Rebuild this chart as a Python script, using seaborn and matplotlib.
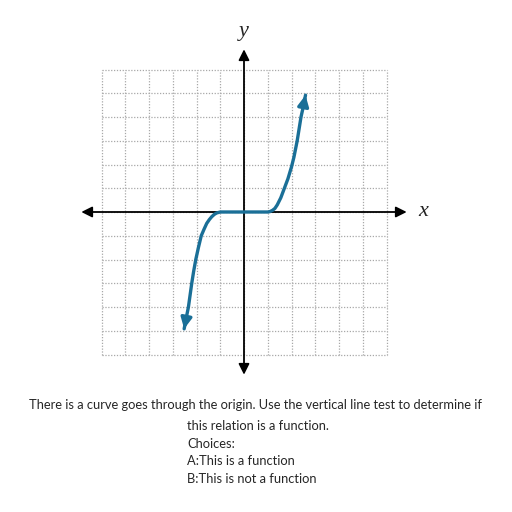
import numpy as np
import pandas as pd
import matplotlib
matplotlib.use("Agg")
import matplotlib.pyplot as plt
import seaborn as sns

# points (x, y in grid units)
curve_x = [-2.52, -2.43, -2.34, -2.27, -2.2, -2.12, -2.03, -1.92, -1.8, -1.68, -1.57,
           -1.46, -1.36, -1.25, -1.15, -1.0, -0.5, 0.0,
           0.5, 1.0, 1.1, 1.2, 1.3, 1.4, 1.55, 1.7, 1.85, 2.0, 2.1, 2.24, 2.32, 2.4, 2.5, 2.59]
curve_y = [-4.92, -4.45, -4.0, -3.5, -3.0, -2.5, -2.0, -1.5, -1.0, -0.72, -0.48,
           -0.32, -0.2, -0.1, -0.04, 0.0, 0.0, 0.0,
           0.0, 0.0, 0.02, 0.07, 0.15, 0.3, 0.6, 1.0, 1.4, 1.9, 2.3, 3.0, 3.5, 4.0, 4.45, 4.92]
grid_ticks = list(range(-6, 7))
axis_reach = 6.85

question = "There is a curve goes through the origin. Use the vertical line test to determine if"
lines_after = ["this relation is a function.", "Choices:", "A:This is a function", "B:This is not a function"]

sns.set_style("white")
curve_color = "#1a6f97"

fig = plt.figure(figsize=(5.12, 5.12), dpi=100)
ax = fig.add_axes([0, 0, 1, 1])
# 23.75 px per unit, origin at pixel (244, 212)
ax.set_xlim(-244 / 23.75, (512 - 244) / 23.75)
ax.set_ylim(-(512 - 212) / 23.75, 212 / 23.75)
ax.axis("off")

# dotted grid
ax.vlines(grid_ticks, -6, 6, colors="#a8a8a8", linestyles=(0, (1, 1.3)), lw=0.9, zorder=1)
ax.hlines(grid_ticks, -6, 6, colors="#a8a8a8", linestyles=(0, (1, 1.3)), lw=0.9, zorder=1)

# axes with arrows
arr = dict(arrowstyle="<|-|>", color="black", lw=1.3, mutation_scale=16, shrinkA=0, shrinkB=0)
ax.annotate("", xy=(axis_reach, 0), xytext=(-axis_reach, 0), arrowprops=arr, zorder=3)
ax.annotate("", xy=(0, axis_reach), xytext=(0, -axis_reach), arrowprops=arr, zorder=3)
ax.text(7.55, 0, "x", fontsize=16, family="Liberation Serif", style="italic", ha="center", va="center")
ax.text(0, 7.6, "y", fontsize=16, family="Liberation Serif", style="italic", ha="center", va="center")

# curve
df = pd.DataFrame({"x": curve_x, "y": curve_y})
sns.lineplot(data=df, x="x", y="y", sort=False, color=curve_color, lw=2.4, ax=ax, zorder=4)
head = dict(arrowstyle="-|>", color=curve_color, lw=2.4, mutation_scale=16, shrinkA=0, shrinkB=0)
ax.annotate("", xy=(curve_x[-1], curve_y[-1]), xytext=(curve_x[-2], curve_y[-2]), arrowprops=head, zorder=5)
ax.annotate("", xy=(curve_x[0], curve_y[0]), xytext=(curve_x[1], curve_y[1]), arrowprops=head, zorder=5)
ax.set_xlabel("")
ax.set_ylabel("")

# question text
fig.text(255.5 / 512, 1 - 405 / 512, question, ha="center", va="center", fontsize=9.25, family="Lato")
for i, t in enumerate(lines_after):
    yy = [426, 444, 461, 479][i]
    fig.text(187 / 512, 1 - yy / 512, t, ha="left", va="center", fontsize=9.25, family="Lato")

fig.savefig("out.png", dpi=100)
